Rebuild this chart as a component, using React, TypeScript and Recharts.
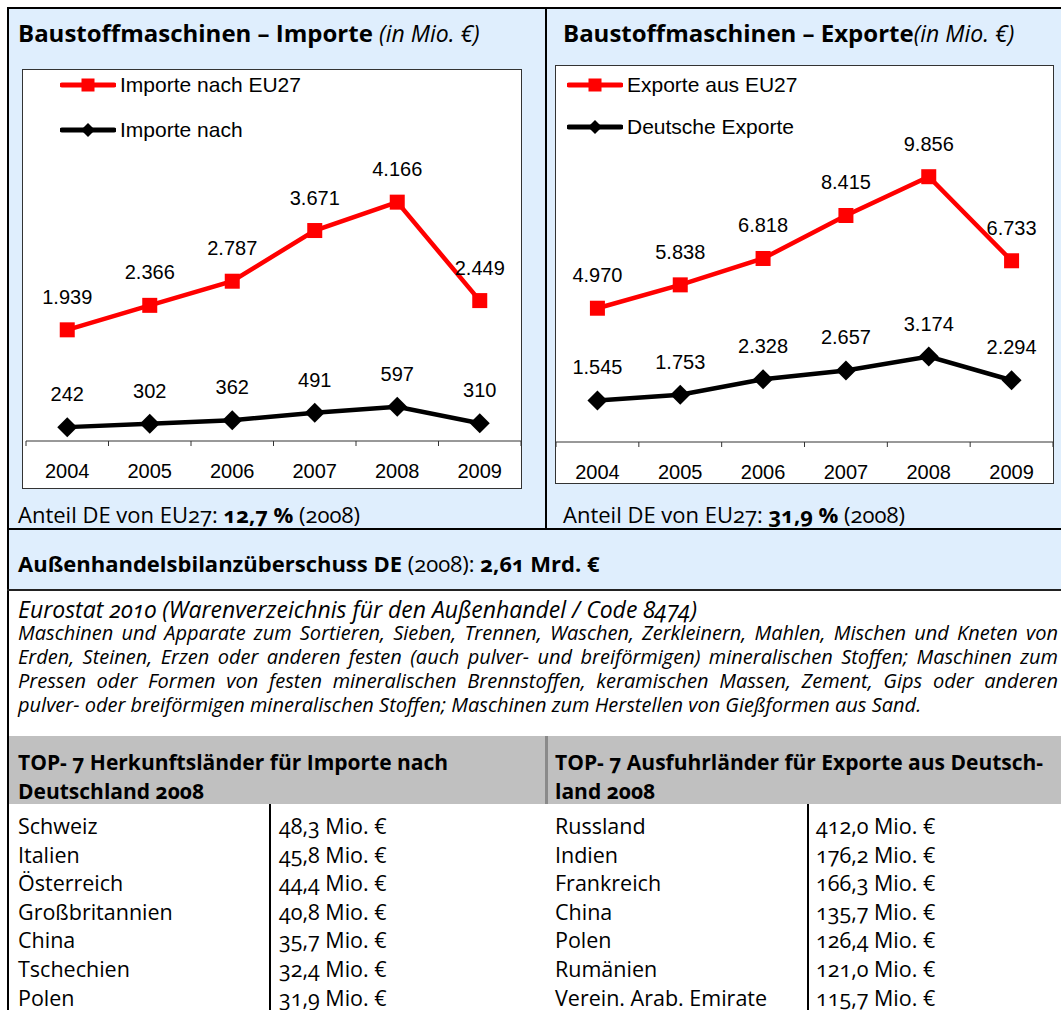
import React from "react";
import { LabelList, Legend, Line, LineChart, XAxis, YAxis } from "recharts";

const years = ["2004", "2005", "2006", "2007", "2008", "2009"];
const importeEU27 = [1939, 2366, 2787, 3671, 4166, 2449];
const importeDE = [242, 302, 362, 491, 597, 310];
const exporteEU27 = [4970, 5838, 6818, 8415, 9856, 6733];
const exporteDE = [1545, 1753, 2328, 2657, 3174, 2294];

const importLaender = ["Schweiz", "Italien", "Österreich", "Großbritannien", "China", "Tschechien", "Polen"];
const importWerte = ["48,3", "45,8", "44,4", "40,8", "35,7", "32,4", "31,9"];
const exportLaender = ["Russland", "Indien", "Frankreich", "China", "Polen", "Rumänien", "Verein. Arab. Emirate"];
const exportWerte = ["412,0", "176,2", "166,3", "135,7", "126,4", "121,0", "115,7"];

const beschreibung = [
  "Maschinen und Apparate zum Sortieren, Sieben, Trennen, Waschen, Zerkleinern, Mahlen, Mischen und Kneten von",
  "Erden, Steinen, Erzen oder anderen festen (auch pulver- und breiförmigen) mineralischen Stoffen; Maschinen zum",
  "Pressen oder Formen von festen mineralischen Brennstoffen, keramischen Massen, Zement, Gips oder anderen",
  "pulver- oder breiförmigen mineralischen Stoffen; Maschinen zum Herstellen von Gießformen aus Sand."
];

const BLUE = "#dfeefd";
const GRAY = "#c0c0c0";
const RED = "#ff0000";
const TEXT_FONT = "'Open Sans', 'Noto Sans', sans-serif";
const CHART_FONT = "'Liberation Sans', Arial, sans-serif";

// numeric year axis: points sit at whole years, Excel-style tick marks between them
const firstYear = Number(years[0]);
const lastYear = Number(years[years.length - 1]);
const axisTicks: number[] = [];
for (let v = firstYear - 0.5; v <= lastYear + 0.5; v += 0.5) axisTicks.push(v);

type Pt = { yr: number; eu: number; de: number };

const fmt = (v: unknown) =>
  String(Math.round(Number(v))).replace(/\B(?=(\d{3})+(?!\d))/g, ".");

const SquareDot = (p: any) => (
  <rect key={`sq-${p.index}`} x={p.cx - 7.5} y={p.cy - 7.5} width={15} height={15} fill={RED} />
);

const DiamondDot = (p: any) => (
  <polygon
    key={`dm-${p.index}`}
    points={`${p.cx},${p.cy - 10} ${p.cx + 10},${p.cy} ${p.cx},${p.cy + 10} ${p.cx - 10},${p.cy}`}
    fill="#000"
  />
);

const YearTick = (p: any) => {
  const v = Number(p.payload.value);
  if (Number.isInteger(v)) {
    return (
      <text x={p.x} y={p.y + 37} textAnchor="middle" fontSize={20} fontFamily={CHART_FONT} fill="#000">
        {String(v)}
      </text>
    );
  }
  return <line x1={p.x} x2={p.x} y1={p.y} y2={p.y + 5} stroke="#333" strokeWidth={1} />;
};

function LegendIcon({ color, kind }: { color: string; kind: string }) {
  return (
    <svg width={56} height={20} style={{ display: "block" }}>
      <line x1={2} y1={10} x2={54} y2={10} stroke={color} strokeWidth={5} strokeLinecap="round" />
      {kind === "eu" ? (
        <rect x={21.5} y={3.5} width={13} height={13} fill={color} />
      ) : (
        <polygon points="28,3 35,10 28,17 21,10" fill={color} />
      )}
    </svg>
  );
}

const legendOrder = ["eu", "de"];

function TradeChart(props: {
  data: Pt[];
  width: number;
  height: number;
  top: number;
  axisHeight: number;
  left: number;
  max: number;
  euName: string;
  deName: string;
  legendLeft: number;
  legendTop: number;
  legendGap: number;
}) {
  const { data, width, height, top, axisHeight, left, max, euName, deName, legendLeft, legendTop, legendGap } = props;
  return (
    <LineChart width={width} height={height} data={data} margin={{ top, right: 0, bottom: 0, left }}>
      <XAxis
        dataKey="yr"
        type="number"
        domain={[firstYear - 0.5, lastYear + 0.5]}
        ticks={axisTicks}
        interval={0}
        allowDataOverflow
        height={axisHeight}
        tickSize={0}
        tickMargin={0}
        tickLine={false}
        stroke="#333"
        tick={YearTick}
      />
      <YAxis hide domain={[0, max]} />
      <Legend
        layout="vertical"
        align="center"
        verticalAlign="middle"
        wrapperStyle={{ left: legendLeft, top: legendTop, width: 320 }}
        content={(lp: any) => (
          <div>
            {[...(lp.payload || [])]
              .sort((a: any, b: any) => legendOrder.indexOf(a.dataKey) - legendOrder.indexOf(b.dataKey))
              .map((entry: any, i: number) => (
                <div
                  key={entry.dataKey}
                  style={{
                    display: "flex",
                    alignItems: "center",
                    height: 20,
                    marginTop: i === 0 ? 0 : legendGap,
                    fontFamily: CHART_FONT,
                    fontSize: 21,
                    color: "#000"
                  }}
                >
                  <LegendIcon color={entry.color} kind={entry.dataKey} />
                  <span style={{ marginLeft: 4, whiteSpace: "nowrap" }}>{entry.value}</span>
                </div>
              ))}
          </div>
        )}
      />
      <Line
        dataKey="eu"
        name={euName}
        stroke={RED}
        strokeWidth={4.5}
        dot={SquareDot}
        activeDot={false}
        isAnimationActive={false}
      >
        <LabelList dataKey="eu" position="top" offset={26} formatter={fmt} fontSize={20} fill="#000" fontFamily={CHART_FONT} />
      </Line>
      <Line
        dataKey="de"
        name={deName}
        stroke="#000"
        strokeWidth={4.5}
        dot={DiamondDot}
        activeDot={false}
        isAnimationActive={false}
      >
        <LabelList dataKey="de" position="top" offset={26} formatter={fmt} fontSize={20} fill="#000" fontFamily={CHART_FONT} />
      </Line>
    </LineChart>
  );
}

const abs = (left: number, top: number, extra: React.CSSProperties = {}): React.CSSProperties => ({
  position: "absolute",
  left,
  top,
  ...extra
});

function TextLine({
  x,
  y,
  size = 21.5,
  lh = 30,
  children,
  style
}: {
  x: number;
  y: number;
  size?: number;
  lh?: number;
  children: React.ReactNode;
  style?: React.CSSProperties;
}) {
  return (
    <div style={abs(x, y - lh / 2, { height: lh, lineHeight: `${lh}px`, fontSize: size, whiteSpace: "nowrap", ...style })}>
      {children}
    </div>
  );
}

export default function App() {
  const importData: Pt[] = years.map((year, i) => ({ yr: Number(year), eu: importeEU27[i], de: importeDE[i] }));
  const exportData: Pt[] = years.map((year, i) => ({ yr: Number(year), eu: exporteEU27[i], de: exporteDE[i] }));
  const rowY = (i: number) => 826 + i * 28.6;

  return (
    <div
      style={{
        position: "absolute",
        left: 0,
        top: 0,
        width: 1061,
        height: 1010,
        overflow: "hidden",
        background: "#fff",
        fontFamily: TEXT_FONT,
        color: "#000",
        fontVariantNumeric: "oldstyle-nums"
      }}
    >
      {/* panels and rules */}
      <div style={abs(9, 9, { width: 1052, height: 519, background: BLUE })} />
      <div style={abs(9, 530, { width: 1052, height: 59, background: BLUE })} />
      <div style={abs(7, 7, { width: 1054, height: 2, background: "#000" })} />
      <div style={abs(7, 7, { width: 2, height: 1003, background: "#000" })} />
      <div style={abs(545, 7, { width: 2, height: 523, background: "#000" })} />
      <div style={abs(7, 528, { width: 1054, height: 2, background: "#000" })} />
      <div style={abs(7, 589, { width: 1054, height: 2, background: "#222" })} />
      <div style={abs(9, 736, { width: 1052, height: 68, background: GRAY })} />
      <div style={abs(545, 736, { width: 3, height: 68, background: "#8a8a8a" })} />
      <div style={abs(269, 804, { width: 2, height: 206, background: "#000" })} />
      <div style={abs(807, 804, { width: 2, height: 206, background: "#000" })} />

      {/* titles */}
      <TextLine x={18} y={33} size={24}>
        <b>Baustoffmaschinen – Importe</b> <i style={{ fontSize: 23 }}>(in Mio. €)</i>
      </TextLine>
      <TextLine x={563} y={33} size={24}>
        <b>Baustoffmaschinen – Exporte</b>
        <i style={{ fontSize: 23 }}>(in Mio. €)</i>
      </TextLine>

      {/* chart boxes */}
      <div style={abs(22, 69, { width: 500, height: 420, border: "1px solid #333", boxSizing: "border-box", background: "#fff" })}>
        <TradeChart
          data={importData}
          width={498}
          height={418}
          top={27}
          axisHeight={47}
          left={3}
          max={6000}
          euName="Importe nach EU27"
          deName="Importe nach"
          legendLeft={37}
          legendTop={5}
          legendGap={25}
        />
      </div>
      <div style={abs(555, 65, { width: 499, height: 419, border: "1px solid #333", boxSizing: "border-box", background: "#fff" })}>
        <TradeChart
          data={exportData}
          width={497}
          height={417}
          top={53}
          axisHeight={41}
          left={0}
          max={12000}
          euName="Exporte aus EU27"
          deName="Deutsche Exporte"
          legendLeft={11}
          legendTop={9}
          legendGap={22}
        />
      </div>

      <TextLine x={18} y={514} size={22}>
        Anteil DE von EU27: <b>12,7 %</b> (2008)
      </TextLine>
      <TextLine x={563} y={514} size={22}>
        Anteil DE von EU27: <b>31,9 %</b> (2008)
      </TextLine>

      <TextLine x={18} y={563} size={22}>
        <b>Außenhandelsbilanzüberschuss DE</b> (2008): <b>2,61 Mrd. €</b>
      </TextLine>

      <TextLine x={18} y={609} size={23} lh={24} style={{ fontStyle: "italic" }}>
        Eurostat 2010 (Warenverzeichnis für den Außenhandel / Code 8474)
      </TextLine>
      {beschreibung.map((line, i) => (
        <div
          key={i}
          style={abs(18, 633 + i * 24 - 12, {
            width: 1040,
            height: 24,
            lineHeight: "24px",
            fontSize: 20,
            fontStyle: "italic",
            whiteSpace: "nowrap",
            textAlign: "justify",
            textAlignLast: i < beschreibung.length - 1 ? "justify" : "left"
          })}
        >
          {line}
        </div>
      ))}

      {/* table headers */}
      <TextLine x={18} y={762} size={21} lh={28}>
        <b>TOP- 7 Herkunftsländer für Importe nach</b>
      </TextLine>
      <TextLine x={18} y={791} size={21} lh={28}>
        <b>Deutschland 2008</b>
      </TextLine>
      <TextLine x={555} y={762} size={21} lh={28}>
        <b>TOP- 7 Ausfuhrländer für Exporte aus Deutsch-</b>
      </TextLine>
      <TextLine x={555} y={791} size={21} lh={28}>
        <b>land 2008</b>
      </TextLine>

      {importLaender.map((land, i) => (
        <React.Fragment key={`imp-${land}`}>
          <TextLine x={18} y={rowY(i)} lh={26}>{land}</TextLine>
          <TextLine x={279} y={rowY(i)} lh={26}>{importWerte[i]} Mio. €</TextLine>
        </React.Fragment>
      ))}
      {exportLaender.map((land, i) => (
        <React.Fragment key={`exp-${land}`}>
          <TextLine x={555} y={rowY(i)} lh={26}>{land}</TextLine>
          <TextLine x={816} y={rowY(i)} lh={26}>{exportWerte[i]} Mio. €</TextLine>
        </React.Fragment>
      ))}
    </div>
  );
}
